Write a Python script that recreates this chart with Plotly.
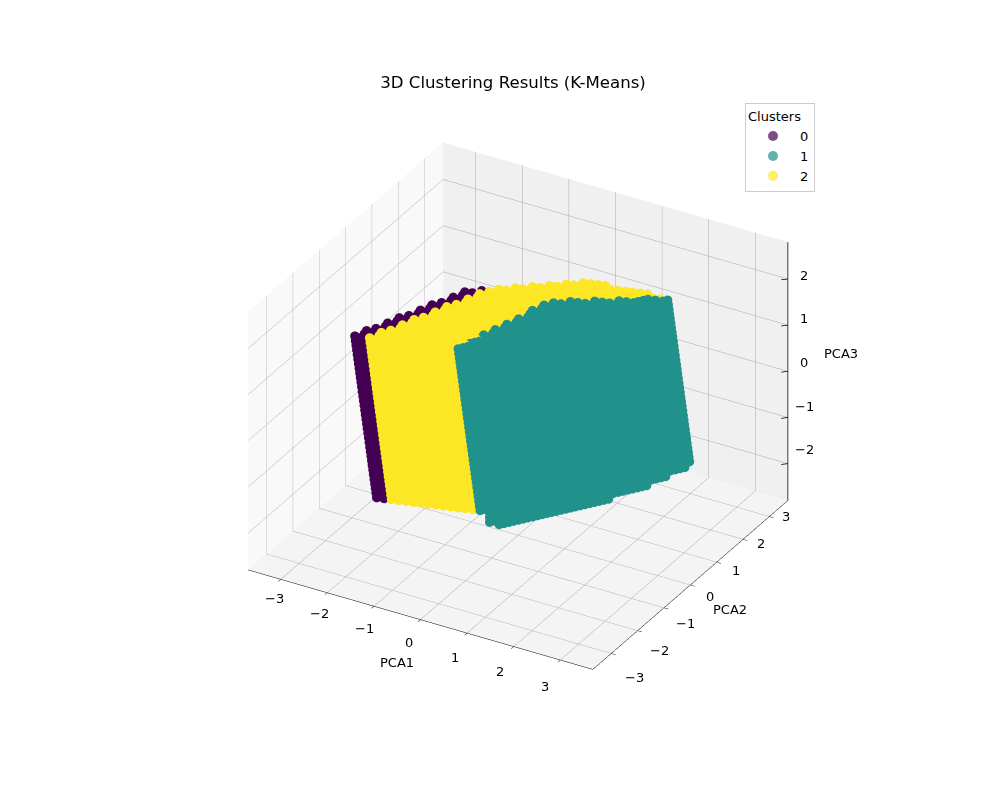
import plotly.graph_objects as go

# The cloud is a lattice of stacked layers.
TITLE = "3D Clustering Results (K-Means)"
cluster_names = ["0", "1", "2"]
cluster_colors = ["#440154", "#21918c", "#fde725"]

# corner of the lattice and its two in-layer steps (PCA1, PCA2)
origin = (-0.15, -1.62)
col_step = (0.112, 0.163)
row_step = (-0.136, -0.040)

# one entry per lattice row
row_first = [0,0,0,0,0,0,0,0,0,0,0,0,0,0,0,2,5,7,10,12,15,17]
row_last = [22,22,22,22,23,23,23,23,23,23,23,24,24,24,24,23,22,21,20,19,18,17]
yellow_from = [0,0,0,0,0,0,0,0,0,0,0,0,0,2,5,7,10,12,15,17,99,99]
teal_from = [0,2,4,5,7,9,11,13,14,16,99,99,99,99,99,99,99,99,99,99,99,99]
teal_to = [22,21,21,20,20,19,19,18,18,17,-1,-1,-1,-1,-1,-1,-1,-1,-1,-1,-1,-1]

# stacked layers: PCA3 of each layer and its drift in PCA1 / PCA2
layer_pca3 = [2.0,1.9,1.8,1.7,1.6,1.5,1.4,1.3,1.2,1.1,1.0,0.9,0.8,0.7,0.6,0.5,0.4,0.3,0.2,0.1,0.0,
              -0.1,-0.2,-0.3,-0.4,-0.5,-0.6,-0.7,-0.8,-0.9,-1.0,-1.1,-1.2,-1.3,-1.4,-1.5]
layer_d1 = [-0.16,-0.15,-0.14,-0.13,-0.12,-0.11,-0.10,-0.09,-0.08,-0.07,-0.06,-0.05,-0.04,-0.03,-0.02,-0.01,0.0,0.01,
            0.02,0.03,0.04,0.05,0.06,0.07,0.08,0.09,0.10,0.11,0.12,0.13,0.14,0.15,0.16,0.17,0.18,0.19]
layer_d2 = [-0.10,-0.094,-0.088,-0.082,-0.076,-0.07,-0.064,-0.058,-0.052,-0.046,-0.04,-0.034,-0.028,-0.022,-0.016,-0.01,-0.004,0.002,
            0.008,0.014,0.02,0.026,0.032,0.038,0.044,0.05,0.056,0.062,0.068,0.074,0.08,0.086,0.092,0.098,0.104,0.11]
# extra bottom layers on the front face
extra_pca3 = [-1.6,-1.7,-1.8,-1.9]
extra_cols = [[1,2,3,4,5,6,7,8,9,10,11,12,13,14,15,16,17,18,19,20,21],
              [1,2,3,4,5,6,7,8,9,10,11,12,13,14,15,16,17,18,19],
              [1,2,3,4,5,6,7,8,9,10,11,12,13,14,15,16,17],
              [2,3,4,5,6,7,8,9,10,11,12,13]]

x_ticks = [-3,-2,-1,0,1,2,3]
y_ticks = [-3,-2,-1,0,1,2,3]
z_ticks = [-2,-1,0,1,2]
x_range = [-3.7, 3.7]
y_range = [-3.7, 3.7]
z_range = [-2.8, 2.8]

px, py, pz = [[], [], []], [[], [], []], [[], [], []]
def add(c, col, row, z, d1, d2):
    px[c].append(origin[0] + col * col_step[0] + row * row_step[0] + d1)
    py[c].append(origin[1] + col * col_step[1] + row * row_step[1] + d2)
    pz[c].append(z)

for z, d1, d2 in zip(layer_pca3, layer_d1, layer_d2):
    for row, (a, b) in enumerate(zip(row_first, row_last)):
        for col in range(a, b + 1):
            if teal_from[row] <= col <= teal_to[row]:
                c = 1
            elif col < yellow_from[row]:
                c = 0
            else:
                c = 2
            add(c, col, row, z, d1, d2)
            if row < 3 and col < b:
                add(c, col + 0.5, row, z, d1, d2)
for z, cols in zip(extra_pca3, extra_cols):
    for col in cols:
        add(1, col, 0, z, layer_d1[-1], layer_d2[-1])
        add(1, col + 0.5, 0, z, layer_d1[-1], layer_d2[-1])

fig = go.Figure()
for i in [0, 1, 2]:
    fig.add_trace(go.Scatter3d(x=px[i], y=py[i], z=pz[i], mode="markers", name=cluster_names[i],
                               legendgroup=cluster_names[i], showlegend=False,
                               marker=dict(size=5.5, color=cluster_colors[i], opacity=1, line=dict(width=0))))
    # legend key at the reference's size and alpha
    fig.add_trace(go.Scatter3d(x=[None], y=[None], z=[None], mode="markers", name=cluster_names[i],
                               legendgroup=cluster_names[i], showlegend=True,
                               marker=dict(size=10, color=cluster_colors[i], opacity=0.7, line=dict(width=0))))

def minus(t):
    return str(t).replace("-", "\u2212")

# z axis drawn on the right-hand vertical edge, as in the reference
edge_x, edge_y, edge_z = [x_range[1], x_range[1]], [y_range[1], y_range[1]], list(z_range)
for t in z_ticks:
    edge_x += [None, x_range[1], x_range[1] - 0.09]
    edge_y += [None, y_range[1], y_range[1] - 0.09]
    edge_z += [None, t, t]
fig.add_trace(go.Scatter3d(x=edge_x, y=edge_y, z=edge_z, mode="lines", showlegend=False, hoverinfo="skip",
                           line=dict(color="black", width=1.5)))

def ax(rng, ticks, bg):
    return dict(title=dict(text=""), range=rng, tickvals=ticks, showticklabels=False,
                showbackground=True, backgroundcolor=bg, gridcolor="#a8a8a8", gridwidth=1, showline=True,
                linecolor="black", linewidth=1, ticks="outside", ticklen=5, tickcolor="black",
                zeroline=False, showspikes=False, autorange=False)

z_axis = ax(z_range, z_ticks, "#f4f4f4")
z_axis.update(showline=False, ticks="")

tick_font = dict(size=13, color="black")
label_font = dict(size=13, color="black")
label_x = 3.69   # just inside the box so the annotations stay drawn
label_y = 3.69
annots = []
for t in x_ticks:
    annots.append(dict(x=t, y=y_range[0], z=z_range[0], text=minus(t), showarrow=False,
                       xshift=-11 - 1.5 * t, yshift=-(23 + 1.2 * t), font=tick_font))
for t in y_ticks:
    annots.append(dict(x=label_x, y=t, z=z_range[0], text=minus(t), showarrow=False,
                       xshift=20.5 - 1.1 * t, yshift=-(12 - 4 * t), font=tick_font))
for t in z_ticks:
    annots.append(dict(x=label_x, y=label_y, z=t, text=minus(t), showarrow=False,
                       xshift=17, yshift=9 - 2.5 * t, font=tick_font))
annots.append(dict(x=0, y=y_range[0], z=z_range[0], text="PCA1", showarrow=False, xshift=-23.5, yshift=-42.5, font=label_font))
annots.append(dict(x=label_x, y=0, z=z_range[0], text="PCA2", showarrow=False, xshift=40.5, yshift=-25, font=label_font))
annots.append(dict(x=label_x, y=label_y, z=0, text="PCA3", showarrow=False, xshift=54, yshift=18, font=label_font))

fig.update_layout(
    width=1000, height=800, paper_bgcolor="white", margin=dict(l=0, r=0, t=0, b=0),
    title=dict(text=TITLE, x=0.505, xanchor="center", y=0.907, yanchor="middle", font=dict(size=16.6, color="black")),
    font=dict(family="DejaVu Sans", color="black"),
    legend=dict(title=dict(text="Clusters", side="top", font=dict(size=13)), x=0.807, xanchor="right", y=0.881, yanchor="top",
                bgcolor="white", bordercolor="#cccccc", borderwidth=1, font=dict(size=13), traceorder="normal",
                itemwidth=44),
    scene=dict(
        domain=dict(x=[0.03, 0.99], y=[0.005, 1.0]),
        aspectmode="manual", aspectratio=dict(x=1, y=0.98, z=0.75),
        xaxis=ax(x_range, x_ticks, "#f9f9f9"),
        yaxis=ax(y_range, y_ticks, "#f0f0f0"),
        zaxis=z_axis,
        annotations=annots,
        camera=dict(eye=dict(x=0.866, y=-1.5, z=1.0), up=dict(x=0, y=0, z=1), projection=dict(type="orthographic")),
    ),
)
fig.write_html("out.html")
